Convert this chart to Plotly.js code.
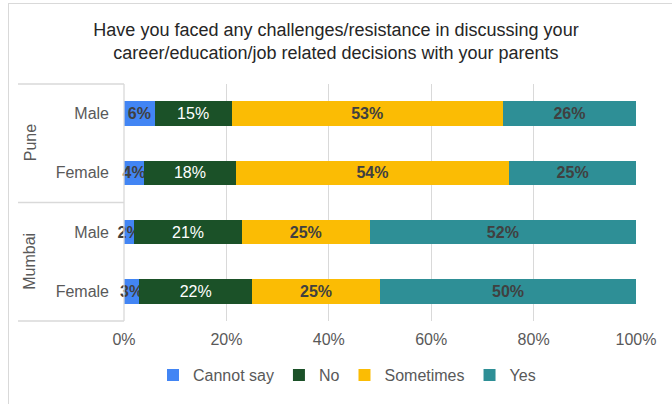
<!DOCTYPE html>
<html>
<head>
<meta charset="utf-8">
<script src="https://cdn.plot.ly/plotly-3.0.1.min.js"></script>
<style>
  html, body { margin: 0; padding: 0; background: #fff; }
  #wrap { position: relative; width: 672px; height: 404px; overflow: hidden; }
  #chart { width: 672px; height: 404px; }
  #frame { position: absolute; left: 8px; top: 3px; width: 700px; height: 500px;
           border-left: 1.5px solid #d9d9d9; border-top: 1.5px solid #d9d9d9; pointer-events: none; }
</style>
</head>
<body>
<div id="wrap"><div id="chart"></div><div id="frame"></div></div>
<script>
// Data
const cities = ['Pune', 'Pune', 'Mumbai', 'Mumbai'];
const genders = ['Male', 'Female', 'Male', 'Female'];
const categories = ['Pune Male', 'Pune Female', 'Mumbai Male', 'Mumbai Female'];
const cannotSay = [6, 4, 2, 3];
const no = [15, 18, 21, 22];
const sometimes = [53, 54, 25, 25];
const yes = [26, 25, 52, 50];
const xTicks = [0, 20, 40, 60, 80, 100];

const seriesNames = ['Cannot say', 'No', 'Sometimes', 'Yes'];
const seriesValues = [cannotSay, no, sometimes, yes];
const seriesColors = ['#4285F4', '#1B5128', '#FBBC04', '#2E8F96'];
const textColors = ['#404040', '#ffffff', '#404040', '#404040'];
const textWeights = ['bold', 'normal', 'bold', 'bold'];
const FONT = 'Liberation Sans, Arial, sans-serif';

const traces = seriesNames.map((name, i) => ({
  type: 'bar',
  orientation: 'h',
  name: name,
  y: categories,
  x: seriesValues[i],
  text: seriesValues[i].map(v => v + '%'),
  texttemplate: '%{text}',
  textposition: 'inside',
  insidetextanchor: 'middle',
  textangle: 0,
  constraintext: 'none',
  cliponaxis: false,
  textfont: { family: FONT, size: 16, color: textColors[i], weight: textWeights[i] },
  marker: { color: seriesColors[i], line: { width: 0 } },
  hoverinfo: 'none'
}));

const L = 124, R = 636, T = 84, B = 325;
const pw = R - L, ph = B - T;
const px = v => (v - L) / pw;

const lineStyle = { color: '#d9d9d9', width: 1.3 };
const shapes = [
  { type: 'line', xref: 'paper', yref: 'paper', x0: px(18), x1: px(124), y0: 1, y1: 1, line: lineStyle },
  { type: 'line', xref: 'paper', yref: 'paper', x0: px(18), x1: px(124), y0: 0.5, y1: 0.5, line: lineStyle },
  { type: 'line', xref: 'paper', yref: 'paper', x0: px(18), x1: px(124), y0: 0, y1: 0, line: lineStyle },
  { type: 'line', xref: 'paper', yref: 'paper', x0: 0, x1: 0, y0: 0, y1: 1, line: lineStyle }
];

const groupNames = ['Pune', 'Mumbai'];
const annotations = groupNames.map((g, i) => ({
  text: g, xref: 'paper', yref: 'paper',
  x: px(30), y: i === 0 ? 0.75 : 0.25,
  xanchor: 'center', yanchor: 'middle',
  showarrow: false, textangle: -90,
  font: { family: FONT, size: 16, color: '#595959' }
}));

const layout = {
  width: 672, height: 404,
  margin: { l: L, r: 672 - R, t: T, b: 404 - B, pad: 0 },
  paper_bgcolor: 'rgba(0,0,0,0)',
  plot_bgcolor: 'rgba(0,0,0,0)',
  barmode: 'stack',
  barnorm: 'percent',
  bargap: 0.585,
  title: {
    text: 'Have you faced any challenges/resistance in discussing your<br>career/education/job related decisions with your parents',
    x: 0.5, xref: 'container', xanchor: 'center',
    y: 1 - 36 / 404, yref: 'container', yanchor: 'middle',
    font: { family: FONT, size: 18, color: '#262626' }
  },
  xaxis: {
    range: [0, 100],
    tickvals: xTicks,
    ticktext: xTicks.map(v => v + '%'),
    showgrid: true, gridcolor: '#d9d9d9', gridwidth: 1.3,
    zeroline: false, showline: false, ticks: '',
    ticklabelstandoff: 7,
    tickfont: { family: FONT, size: 16, color: '#595959' },
    fixedrange: true
  },
  yaxis: {
    type: 'category',
    categoryorder: 'array',
    categoryarray: categories,
    tickvals: categories,
    ticktext: genders,
    autorange: 'reversed',
    showgrid: false, zeroline: false, showline: false, ticks: '',
    ticklabelstandoff: 14,
    tickfont: { family: FONT, size: 16, color: '#595959' },
    fixedrange: true
  },
  legend: {
    orientation: 'h',
    x: px(347), xanchor: 'center',
    y: -55 / ph, yanchor: 'middle',
    traceorder: 'normal',
    font: { family: FONT, size: 16, color: '#595959' },
    itemwidth: 30,
    itemclick: false, itemdoubleclick: false
  },
  shapes: shapes,
  annotations: annotations,
  showlegend: true
};

Plotly.newPlot('chart', traces, layout, { displayModeBar: false, staticPlot: true });
</script>
</body>
</html>
